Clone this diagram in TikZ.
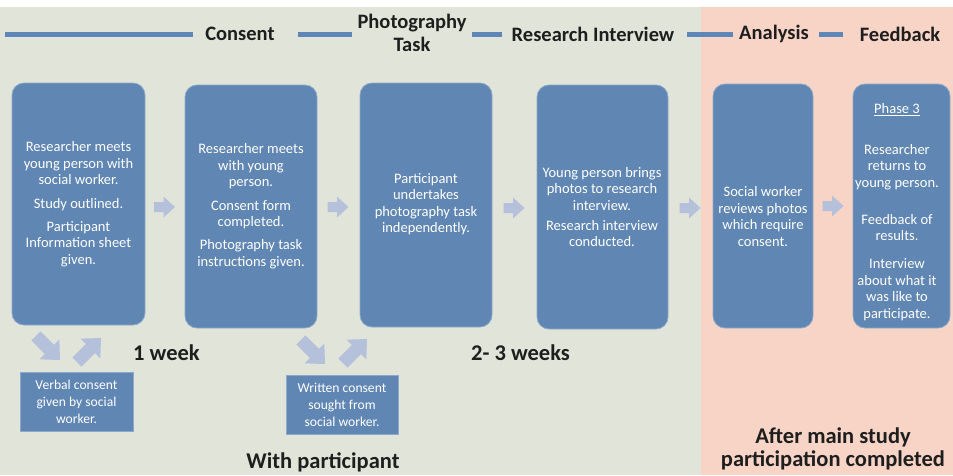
\documentclass[tikz,border=0pt]{standalone}
\usepackage{fontspec}
\setmainfont{Carlito}
\definecolor{bgG}{RGB}{225,229,217}
\definecolor{bgP}{RGB}{247,212,198}
\definecolor{boxc}{RGB}{96,134,179}
\definecolor{boxe}{RGB}{140,168,202}
\definecolor{arrowc}{RGB}{181,192,218}
\definecolor{linec}{RGB}{94,134,182}
\definecolor{txt}{RGB}{30,30,30}
\begin{document}
\begin{tikzpicture}[x=1pt,y=-1pt,
  bigbox/.style={draw=boxe, line width=0.8pt, fill=boxc, rounded corners=12pt, inner sep=0},
  boxtext/.style={text=white, font=\fontsize{14.5}{16.5}\selectfont, align=center, inner sep=0},
  smallbox/.style={draw=boxe, line width=0.8pt, fill=boxc, inner sep=0},
  smalltext/.style={text=white, font=\fontsize{13.6}{17}\selectfont, align=center, inner sep=0},
  headtext/.style={font=\fontsize{20.5}{23}\selectfont\bfseries, text=txt, inner sep=0, align=center},
  bigtext/.style={font=\fontsize{22.5}{23}\selectfont\bfseries, text=txt, inner sep=0, align=center},
  seg/.style={linec, line width=5pt},
  rarrow/.pic={\fill[arrowc] (-10.5,-5) -- (-1,-5) -- (-1,-10.5) -- (10.5,0) -- (-1,10.5) -- (-1,5) -- (-10.5,5) -- cycle;},
  darrow/.pic={\fill[arrowc] (-17,-6.5) -- (2,-6.5) -- (2,-14) -- (17,0) -- (2,14) -- (2,6.5) -- (-17,6.5) -- cycle;}
]
\useasboundingbox (0,0) rectangle (953,475);
% backgrounds
\fill[white] (0,0) rectangle (953,475);
\fill[bgG] (0,7) rectangle (701,475);
\fill[bgP] (701,7) rectangle (953,475);

% header line
\draw[seg] (5,34) -- (193,34);
\draw[seg] (298,34) -- (352,34);
\draw[seg] (472,34) -- (502,34);
\draw[seg] (687,34) -- (733,34);
\draw[seg] (819,34) -- (843,34);
\node[headtext] (hcon) at (240,34) {Consent};
\node[headtext] (hpho) at (412,33) {Photography\\Task};
\node[headtext] (hres) at (593,34) {Research Interview};
\node[headtext] (hana) at (774,34) {Analysis};
\node[headtext] (hfee) at (900,34) {Feedback};

% big boxes
\node[bigbox, minimum width=133pt, minimum height=242pt] (b1) at (78.5,204) {};
\node[bigbox, minimum width=132pt, minimum height=243pt] (b2) at (251,206.5) {};
\node[bigbox, minimum width=132pt, minimum height=244pt] (b3) at (426,205) {};
\node[bigbox, minimum width=131pt, minimum height=244pt] (b4) at (602.5,207) {};
\node[bigbox, minimum width=100pt, minimum height=244pt] (b5) at (763,206) {};
\node[bigbox, minimum width=97pt, minimum height=244pt] (b6) at (901.5,206) {};

\node[boxtext] (t1) at (78.5,204) {Researcher meets\\young person with\\social worker.\\[7pt]Study outlined.\\[6.5pt]Participant\\Information sheet\\given.};
\node[boxtext] (t2) at (251,206) {Researcher meets\\with young\\person.\\[7pt]Consent form\\completed.\\[6.5pt]Photography task\\instructions given.};
\node[boxtext] (t3) at (426,204) {Participant\\undertakes\\photography task\\independently.};
\node[boxtext] (t4) at (602,207) {Young person brings\\photos to research\\interview.\\[3.5pt]Research interview\\conducted.};
\node[boxtext] (t5) at (763,216.5) {Social worker\\reviews photos\\which require\\consent.};
\node[boxtext] (t6) at (897,212) {\underline{Phase 3}\\[24.5pt]Researcher\\returns to\\young person.\\[20.5pt]Feedback of\\results.\\[11.5pt]Interview\\about what it\\was like to\\participate.};

% right arrows
\pic at (164.5,207) {rarrow};
\pic at (338,207) {rarrow};
\pic at (514,208) {rarrow};
\pic at (690,208) {rarrow};
\pic at (833,206) {rarrow};

% diagonal arrows
\pic[rotate=-45] at (48,348) {darrow};
\pic[rotate=45] at (89,350) {darrow};
\pic[rotate=-45] at (313,352) {darrow};
\pic[rotate=45] at (355,351) {darrow};

% small boxes
\node[smallbox, minimum width=113pt, minimum height=59pt] (s1) at (76.5,401.5) {};
\node[smallbox, minimum width=112pt, minimum height=59pt] (s2) at (342,404.5) {};
\node[smalltext] (st1) at (76.5,402) {Verbal consent\\given by social\\worker.};
\node[smalltext] (st2) at (342,405) {Written consent\\sought from\\social worker.};

% labels
\node[bigtext, anchor=west] (w1) at (133,353) {1 week};
\node[bigtext, anchor=west] (w2) at (471,353) {2- 3 weeks};
\node[bigtext] (wp) at (323,462) {With participant};
\node[bigtext] (after) at (833,449) {After main study\\participation completed};
\end{tikzpicture}
\end{document}
